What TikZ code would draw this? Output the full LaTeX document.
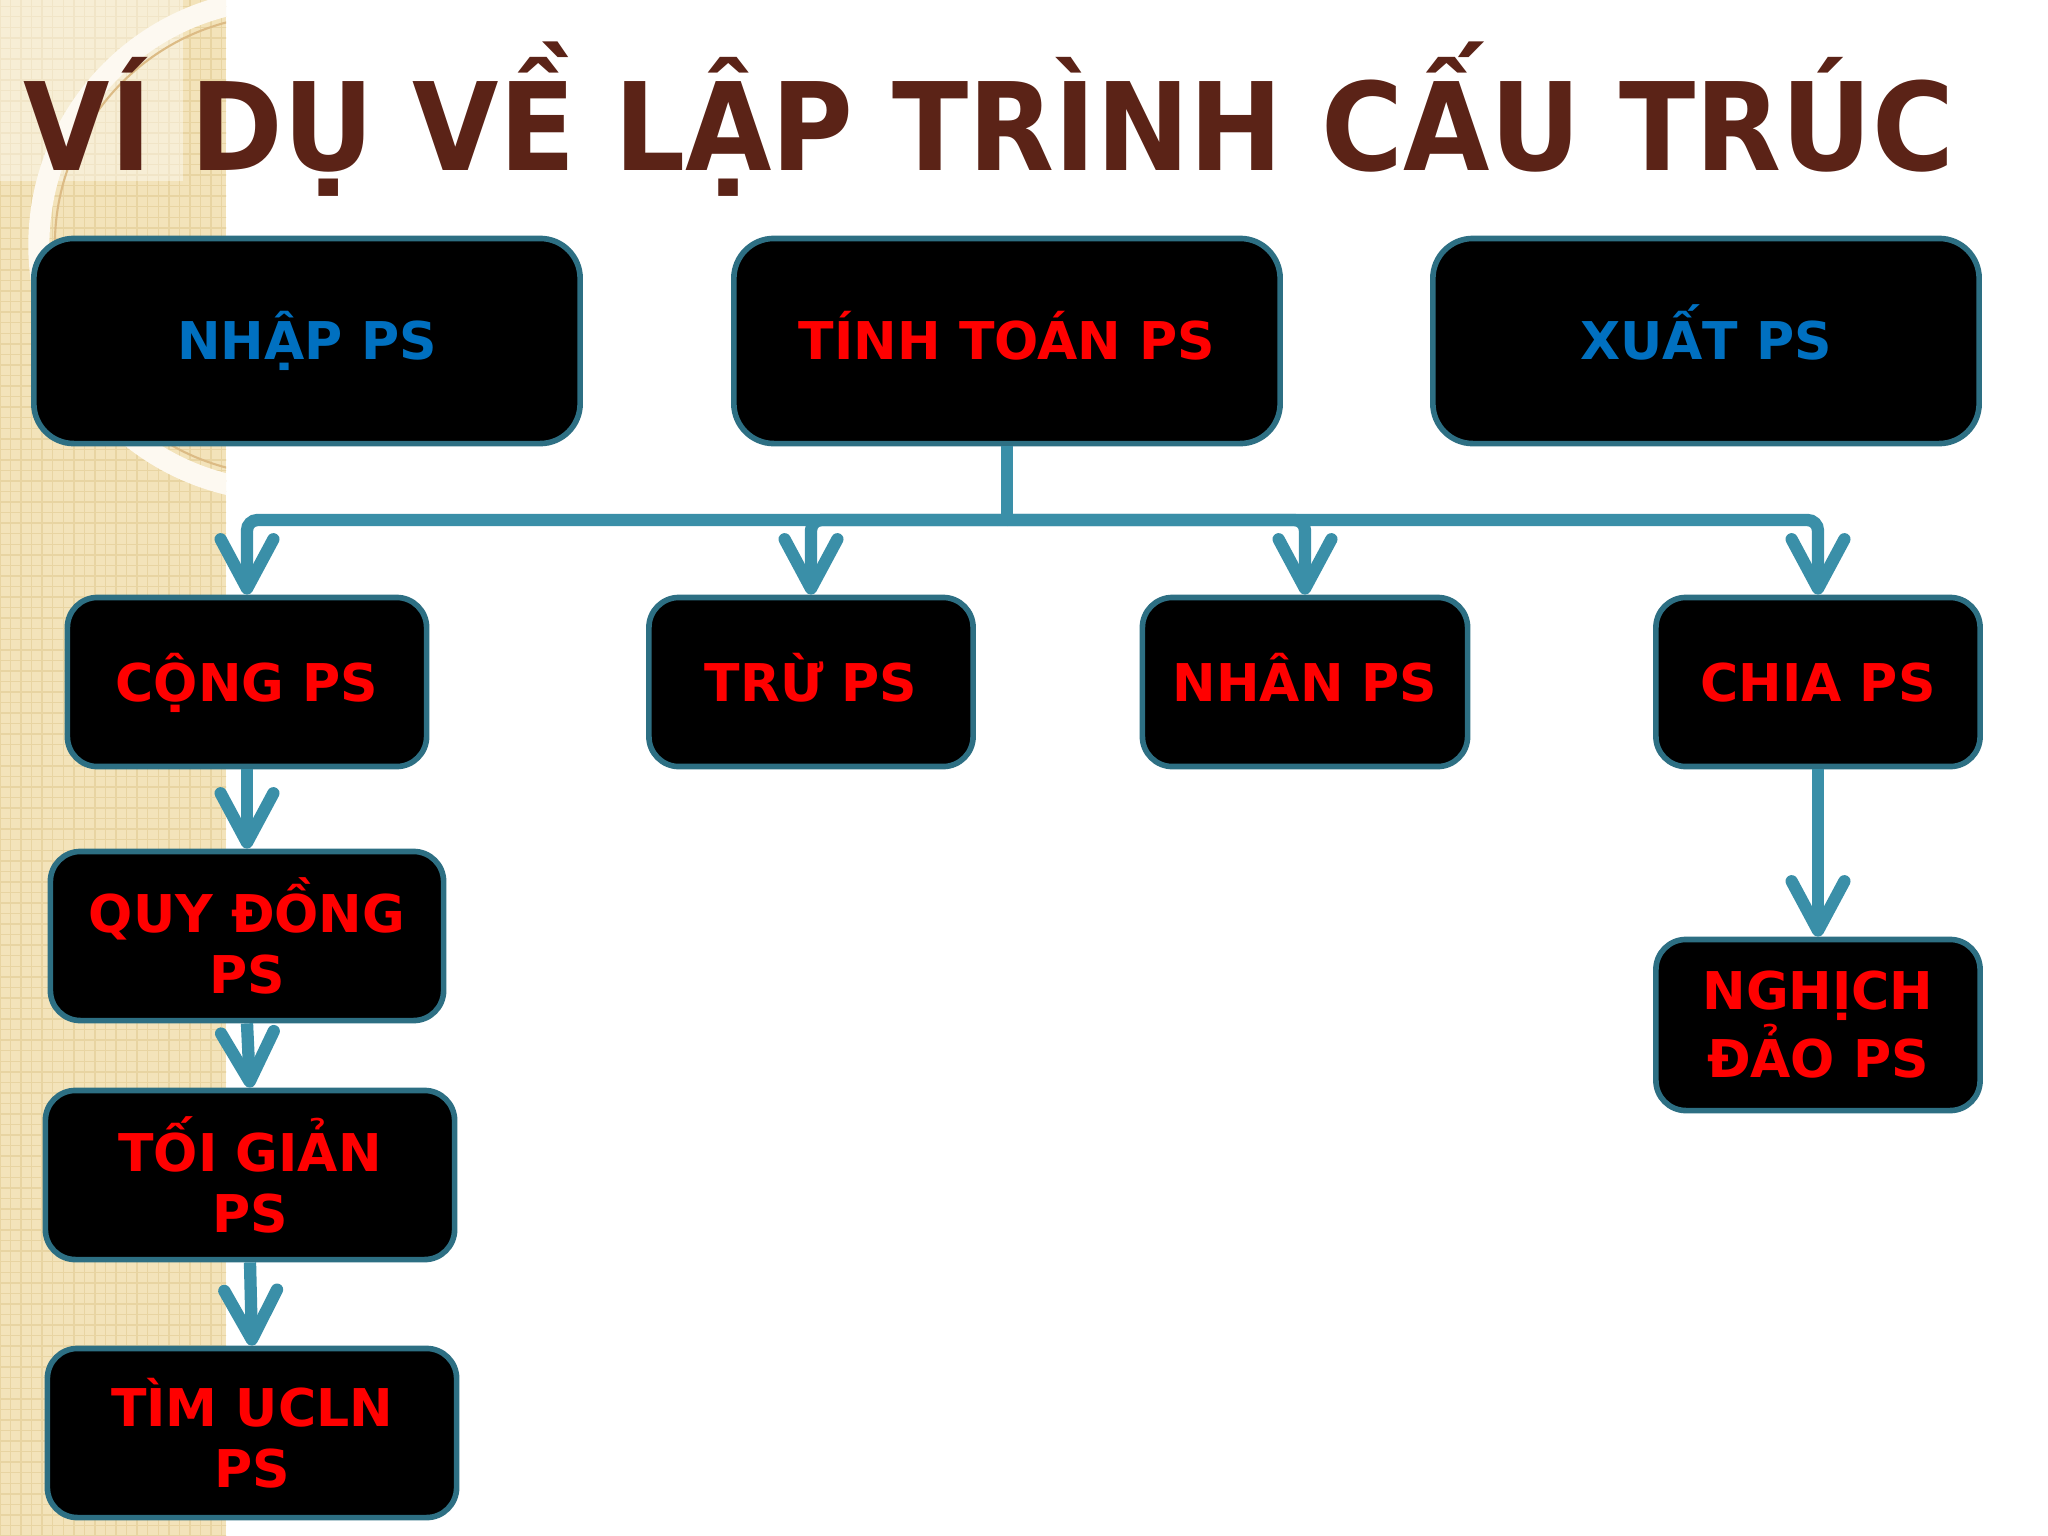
\documentclass[tikz,border=0pt]{standalone}
\usepackage{fontspec}
\setmainfont{DejaVu Sans}
\usetikzlibrary{arrows.meta,patterns}

\definecolor{titlebrown}{HTML}{5B2317}
\definecolor{flowteal}{HTML}{3A8FA8}
\definecolor{edgeteal}{HTML}{2D6F83}
\definecolor{psred}{HTML}{FF0000}
\definecolor{psblue}{HTML}{0070C0}
\definecolor{stripbeige}{HTML}{F3E3BA}
\definecolor{stripdot}{HTML}{E8D4A2}

\tikzset{
  box/.style={draw=edgeteal, line width=1.6pt, fill=black, rounded corners=0.3cm,
    inner sep=0pt, align=center, text=psred,
    font=\fontsize{14.8}{17.5}\selectfont\bfseries},
  oneline/.style={text height=10.8pt, text depth=0pt},
  bigbox/.style={box, oneline, minimum width=5.46cm, minimum height=2.05cm, rounded corners=0.4cm},
  smallbox/.style={box, minimum height=1.69cm},
  flow/.style={draw=flowteal, line width=3.5pt,
    -{Straight Barb[length=14pt,width=15pt,round]}},
}

\begin{document}
\begin{tikzpicture}[x=0.01cm,y=-0.01cm]

\useasboundingbox (0,0) rectangle (2048,1536);
\fill[white] (0,0) rectangle (2048,1536);

% left strip
\fill[stripbeige] (0,0) rectangle (226,1536);
\fill[pattern=grid, pattern color=stripdot] (0,0) rectangle (226,1536);
\begin{scope}
\clip (0,0) rectangle (226,1536);
\fill[white, opacity=0.4] (0,0) rectangle (183,181);
\draw[white!80!stripbeige, line width=6pt] (285,245) circle[radius=2.46cm];
\draw[stripdot!70!brown, line width=0.6pt] (285,245) circle[radius=2.30cm];
\end{scope}

% title
\node[anchor=base west, inner sep=0pt, text=titlebrown,
  font=\fontsize{34.7}{40}\selectfont\bfseries] (title) at (23,170)
  {\scalebox{0.915}[1]{VÍ DỤ VỀ LẬP TRÌNH CẤU TRÚC}};

% top row
\node[bigbox, text=psblue] (nhap) at (307,341) {NHẬP PS};
\node[bigbox] (tinh) at (1007,341) {TÍNH TOÁN PS};
\node[bigbox, text=psblue] (xuat) at (1706,341) {XUẤT PS};

% second row
\node[smallbox, oneline, minimum width=3.59cm] (cong) at (247,682) {CỘNG PS};
\node[smallbox, oneline, minimum width=3.24cm] (tru) at (811,682) {TRỪ PS};
\node[smallbox, oneline, minimum width=3.25cm] (nhan) at (1305,682) {NHÂN PS};
\node[smallbox, oneline, minimum width=3.24cm] (chia) at (1818,682) {CHIA PS};

% left column
\node[smallbox, minimum width=3.93cm] (quy) at (247,936) {QUY ĐỒNG\\PS};
\node[smallbox, minimum width=4.09cm] (toi) at (250,1175) {TỐI GIẢN\\PS};
\node[smallbox, minimum width=4.09cm] (tim) at (252,1433) {TÌM UCLN\\PS};

% right column
\node[smallbox, minimum width=3.24cm, minimum height=1.71cm] (nghich) at (1818,1025) {NGHỊCH\\ĐẢO PS};

% connectors
\coordinate (bus) at (1007,520);
\draw[draw=flowteal, line width=3.5pt] (tinh.south) -- (bus);
\foreach \n in {cong,tru,nhan,chia}
  \draw[flow, rounded corners=3pt] (bus) -| (\n.north);

\draw[flow] (cong.south) -- (quy.north);
\draw[flow] (quy.south) -- (toi.north);
\draw[flow] (toi.south) -- (tim.north);
\draw[flow] (chia.south) -- (nghich.north);

\end{tikzpicture}
\end{document}
